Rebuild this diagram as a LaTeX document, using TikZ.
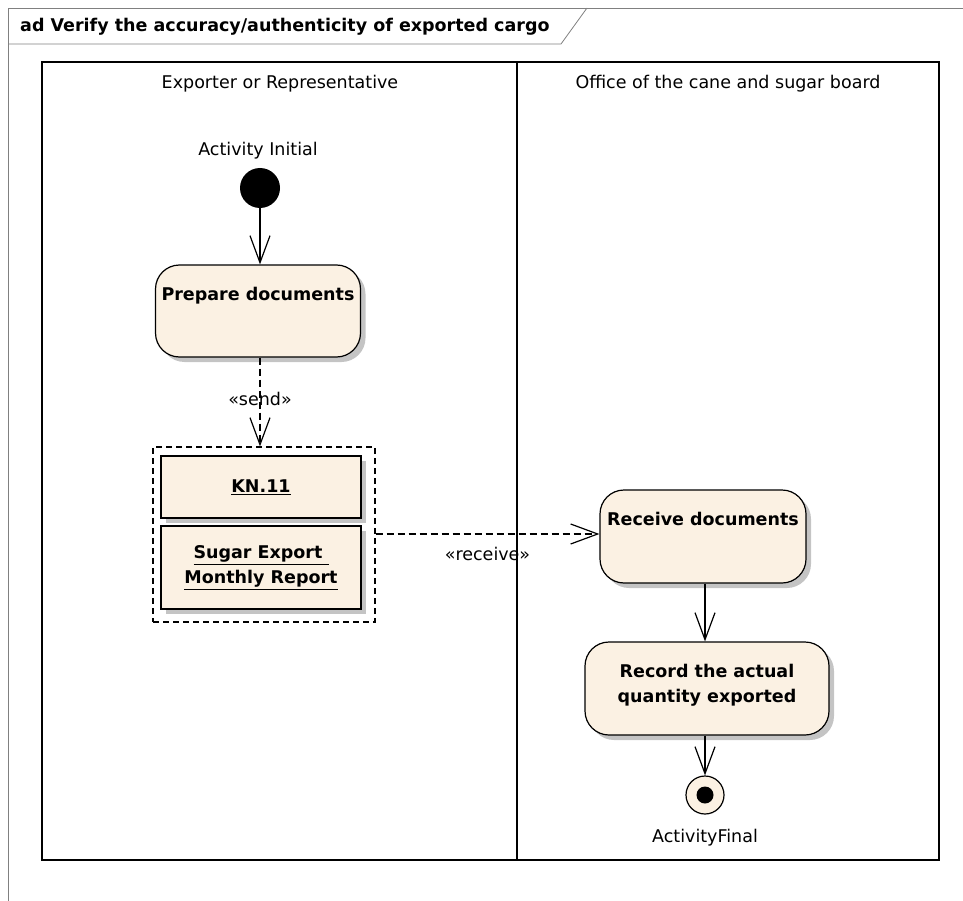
\documentclass[tikz,border=0pt]{standalone}
\usepackage{fontspec}
\setmainfont{DejaVu Sans}
\usepackage{tikz}
\usetikzlibrary{positioning,arrows.meta,shadows}
\definecolor{actfill}{RGB}{251,241,227}
\definecolor{shade}{RGB}{196,196,196}

\begin{document}
\begin{tikzpicture}[x=1pt,y=-1pt,
  act/.style={draw,line width=1.2pt,fill=actfill,rounded corners=24pt,inner sep=0pt,
    drop shadow={shadow xshift=5pt,shadow yshift=-5pt,fill=shade,opacity=1}},
  obj/.style={draw,line width=1.2pt,fill=actfill,inner sep=0pt,align=center,
    font=\fontsize{17.5}{25}\selectfont\bfseries,
    drop shadow={shadow xshift=5pt,shadow yshift=-5pt,fill=shade,opacity=1}},
  title/.style={font=\fontsize{17.5}{25}\selectfont\bfseries,align=center,inner sep=0pt},
  lab/.style={font=\fontsize{17.5}{20}\selectfont,inner sep=2pt},
  lane/.style={draw,line width=1.6pt},
  arr/.style={-{Straight Barb[length=27pt,width=20pt,line width=1.2pt]},line width=1.2pt},
  darr/.style={arr,dash pattern=on 7pt off 4pt}]
\useasboundingbox (0,0) rectangle (963,901);
\draw[gray,line width=0.8pt] (8,901) -- (8,8) -- (963,8);
\draw[gray,line width=0.8pt] (8,44) -- (561,44) -- (587,8);
\node[anchor=west,font=\fontsize{17.5}{20}\selectfont\bfseries,inner sep=0pt] (frame) at (20,27)
  {ad Verify the accuracy/authenticity of exported cargo};
\draw[lane] (42,62) rectangle (517,860);
\draw[lane] (517,62) rectangle (939,860);
\node[lab] (laneA) at (280,84) {Exporter or Representative};
\node[lab] (laneB) at (728,84) {Office of the cane and sugar board};
\node[circle,fill=black,minimum size=40pt,inner sep=0pt] (init) at (260,188) {};
\node[lab] (initlab) at (258,151) {Activity Initial};
\node[act,minimum width=205pt,minimum height=92pt,
  label={[title,anchor=north,yshift=-23pt]north:Prepare documents}] (prep) at (258,311) {};
\node[draw,line width=1.2pt,dash pattern=on 6pt off 4pt,minimum width=222pt,minimum height=175pt] (grp) at (264,534.5) {};
\node[obj,minimum width=200pt,minimum height=62pt] (kn) at (261,487) {\underline{KN.11}};
\node[obj,minimum width=200pt,minimum height=83pt] (ser) at (261,567.5)
  {\underline{Sugar Export }\\\underline{Monthly Report}};
\node[act,minimum width=206pt,minimum height=93pt,
  label={[title,anchor=north,yshift=-23pt]north:Receive documents}] (recv) at (703,536.5) {};
\node[act,minimum width=244pt,minimum height=93pt,
  label={[title,anchor=north,yshift=-23pt]north:Record the actual\\quantity exported}] (rec) at (707,688.5) {};
\node[circle,draw,line width=1.2pt,fill=actfill,minimum size=38pt,inner sep=0pt] (final) at (705,795) {};
\node[circle,fill=black,minimum size=17pt,inner sep=0pt] at (final) {};
\node[lab] (finlab) at (705,838) {ActivityFinal};
\draw[arr] (init) -- (init |- prep.north);
\draw[darr] (init |- prep.south) -- node[lab,pos=0.47] {«send»} (init |- grp.north);
\draw[darr] (grp.east |- 0,534) -- node[lab,below=11pt,pos=0.5] {«receive»} (recv.west |- 0,534);
\draw[arr] (final |- recv.south) -- (final |- rec.north);
\draw[arr] (final |- rec.south) -- (final);
\end{tikzpicture}
\end{document}
